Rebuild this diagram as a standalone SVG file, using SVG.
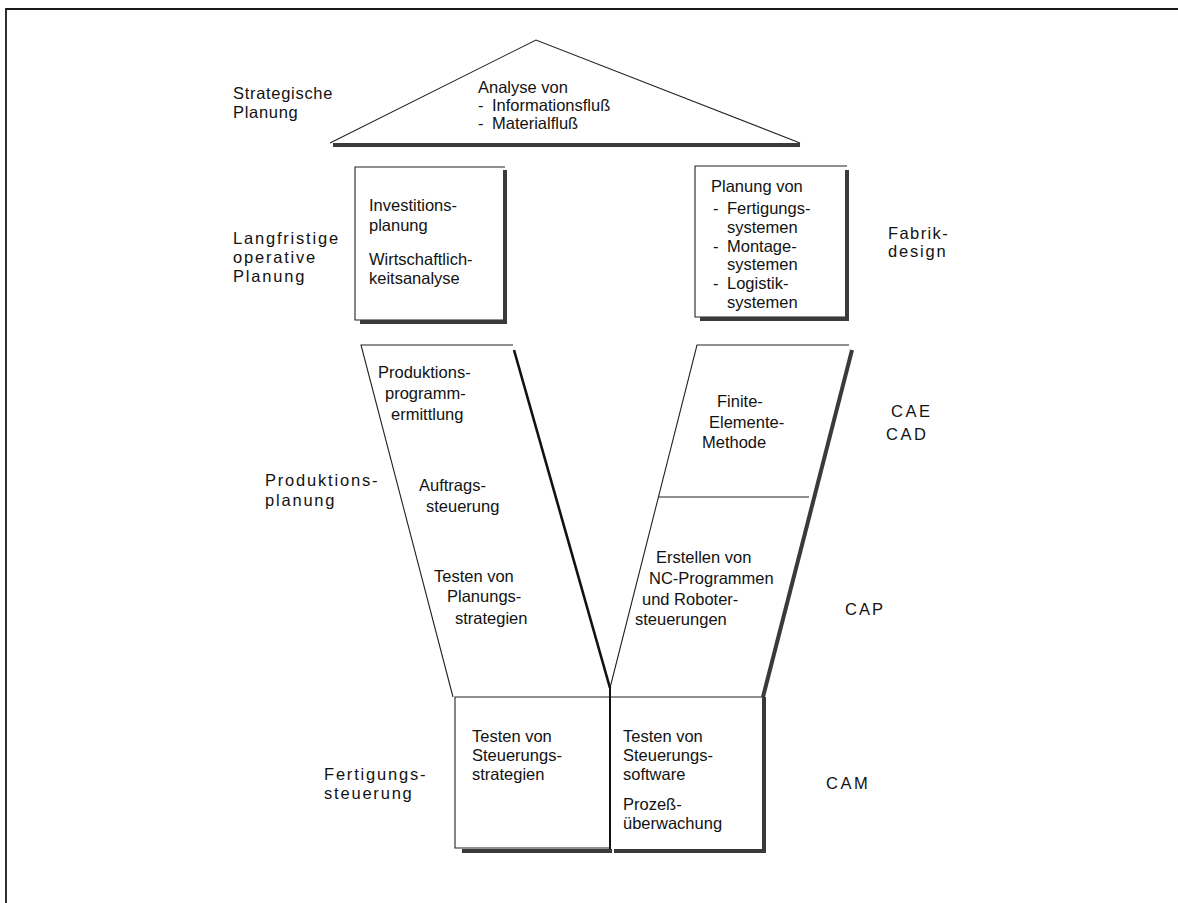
<svg xmlns="http://www.w3.org/2000/svg" width="1178" height="903" viewBox="0 0 1178 903">
  <style>
    text { font-family: "Liberation Sans", Arial, Helvetica, sans-serif; fill: #121212; }
    .t { font-size: 16.5px; }
    .lbl { font-size: 16.5px; letter-spacing: 1.8px; }
    .abbr { font-size: 16.5px; letter-spacing: 2.6px; }
    .thin { fill: none; stroke: #222; stroke-width: 1.1; }
    .shade { fill: none; stroke: #3a3a3a; stroke-width: 4; stroke-linecap: butt; }
    .dark { fill: none; stroke: #111; stroke-width: 2.6; }
  </style>

  <rect width="1178" height="903" fill="#ffffff"/>

  <!-- page frame -->
  <g id="frame">
    <path d="M6,903 V9 H1178" fill="none" stroke="#1a1a1a" stroke-width="1.8"/>
  </g>

  <!-- level captions on the left -->
  <g id="label-strategisch">
    <text class="lbl" x="233" y="99" style="letter-spacing:0.7px">Strategische</text>
    <text class="lbl" x="233" y="118" style="letter-spacing:0.7px">Planung</text>
  </g>
  <g id="label-langfristig">
    <text class="lbl" x="233" y="244">Langfristige</text>
    <text class="lbl" x="233" y="263">operative</text>
    <text class="lbl" x="233" y="282">Planung</text>
  </g>
  <g id="label-produktion">
    <text class="lbl" x="265" y="486">Produktions-</text>
    <text class="lbl" x="265" y="506">planung</text>
  </g>
  <g id="label-fertigung">
    <text class="lbl" x="324" y="780">Fertigungs-</text>
    <text class="lbl" x="324" y="799">steuerung</text>
  </g>

  <!-- captions on the right -->
  <g id="label-fabrik">
    <text class="lbl" x="888" y="239" style="letter-spacing:1.4px">Fabrik-</text>
    <text class="lbl" x="888" y="257">design</text>
  </g>
  <g id="label-cae-cad">
    <text class="abbr" x="891" y="417">CAE</text>
    <text class="abbr" x="886" y="440">CAD</text>
  </g>
  <g id="label-cap">
    <text class="abbr" x="845" y="615" style="letter-spacing:2px">CAP</text>
  </g>
  <g id="label-cam">
    <text class="abbr" x="826" y="789">CAM</text>
  </g>

  <!-- roof: strategic analysis -->
  <g id="roof">
    <path class="thin" d="M330,143 L536,40 L800,143"/>
    <line class="shade" x1="333" y1="145" x2="800" y2="145" stroke-width="3.5"/>
    <text class="t" x="478" y="93">Analyse von</text>
    <text class="t" x="478" y="111">-</text>
    <text class="t" x="492" y="111">Informationsfluß</text>
    <text class="t" x="478" y="129">-</text>
    <text class="t" x="492" y="129">Materialfluß</text>
  </g>

  <!-- long-term planning box -->
  <g id="box-investition">
    <path class="thin" d="M505,167 H355 V320 H505"/>
    <line class="shade" x1="505" y1="170" x2="505" y2="324"/>
    <line class="shade" x1="360" y1="322" x2="507" y2="322"/>
    <text class="t" x="369" y="211">Investitions-</text>
    <text class="t" x="369" y="231">planung</text>
    <text class="t" x="369" y="265">Wirtschaftlich-</text>
    <text class="t" x="369" y="284">keitsanalyse</text>
  </g>

  <!-- factory design box -->
  <g id="box-fabrikdesign">
    <path class="thin" d="M847,166 H695 V317 H847"/>
    <line class="shade" x1="847" y1="170" x2="847" y2="321"/>
    <line class="shade" x1="700" y1="319" x2="849" y2="319"/>
    <text class="t" x="711" y="192">Planung von</text>
    <text class="t" x="713" y="214">-</text>
    <text class="t" x="727" y="214">Fertigungs-</text>
    <text class="t" x="727" y="233">systemen</text>
    <text class="t" x="713" y="252">-</text>
    <text class="t" x="727" y="252">Montage-</text>
    <text class="t" x="727" y="270">systemen</text>
    <text class="t" x="713" y="289">-</text>
    <text class="t" x="727" y="289">Logistik-</text>
    <text class="t" x="727" y="308">systemen</text>
  </g>

  <!-- production planning, left arm of the Y -->
  <g id="arm-produktionsplanung">
    <path class="thin" d="M453,697 L361,345 H513"/>
    <line class="dark" x1="514" y1="350" x2="610" y2="688"/>
    <text class="t" x="378" y="378">Produktions-</text>
    <text class="t" x="385" y="399">programm-</text>
    <text class="t" x="391" y="420">ermittlung</text>
    <text class="t" x="419" y="491">Auftrags-</text>
    <text class="t" x="426" y="512">steuerung</text>
    <text class="t" x="434" y="582">Testen von</text>
    <text class="t" x="447" y="602">Planungs-</text>
    <text class="t" x="455" y="624">strategien</text>
  </g>

  <!-- CAE/CAD and CAP, right arm of the Y -->
  <g id="arm-cae-cap">
    <path class="thin" d="M610,688 L697,345 H849"/>
    <line class="shade" x1="852" y1="350" x2="763" y2="697"/>
    <line class="thin" x1="659" y1="497" x2="809" y2="497"/>
    <text class="t" x="717" y="407">Finite-</text>
    <text class="t" x="709" y="428">Elemente-</text>
    <text class="t" x="702" y="448">Methode</text>
    <text class="t" x="656" y="563">Erstellen von</text>
    <text class="t" x="649" y="584">NC-Programmen</text>
    <text class="t" x="642" y="605">und Roboter-</text>
    <text class="t" x="635" y="625">steuerungen</text>
  </g>

  <!-- shop floor control, left foot -->
  <g id="box-steuerungsstrategien">
    <path class="thin" d="M610,697 H455 V848 H610"/>
    <line x1="610" y1="686" x2="610" y2="852" stroke="#111" stroke-width="2"/>
    <line class="shade" x1="462" y1="851" x2="612" y2="851" stroke-width="3.5"/>
    <text class="t" x="472" y="742">Testen von</text>
    <text class="t" x="472" y="761">Steuerungs-</text>
    <text class="t" x="472" y="780">strategien</text>
  </g>

  <!-- CAM, right foot -->
  <g id="box-steuerungssoftware">
    <path class="thin" d="M611,697 H763"/>
    <line class="shade" x1="764" y1="697" x2="764" y2="853"/>
    <line class="shade" x1="614" y1="851" x2="766" y2="851" stroke-width="3.5"/>
    <text class="t" x="623" y="742">Testen von</text>
    <text class="t" x="623" y="761">Steuerungs-</text>
    <text class="t" x="623" y="780">software</text>
    <text class="t" x="623" y="810">Prozeß-</text>
    <text class="t" x="623" y="829">überwachung</text>
  </g>
</svg>
